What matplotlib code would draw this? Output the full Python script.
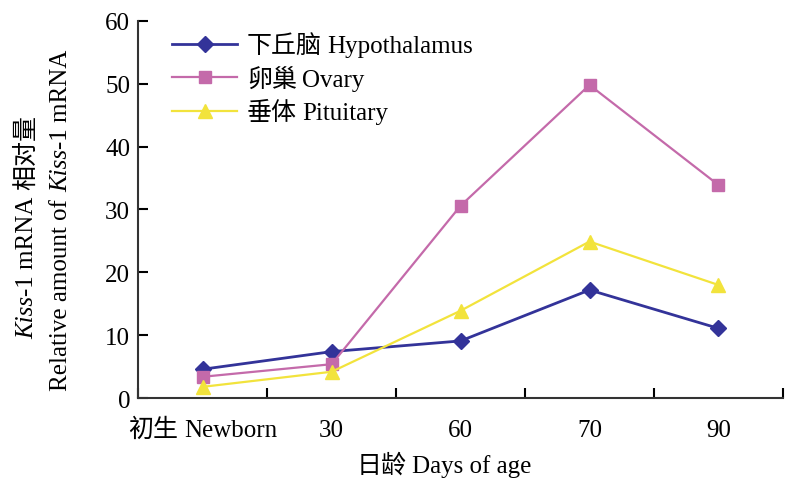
import matplotlib
matplotlib.use('Agg')
import matplotlib.pyplot as plt
from matplotlib.transforms import IdentityTransform

# one family per text object: CJK runs and latin runs are drawn separately
SERIF = 'Liberation Serif'
CJK = 'Noto Sans CJK SC'
plt.rcParams['font.family'] = SERIF

# data
categories = ['初生 Newborn', '30', '60', '70', '90']
hypothalamus = [4.6, 7.4, 9.1, 17.2, 11.1]
ovary = [3.4, 5.4, 30.6, 49.8, 33.9]
pituitary = [1.8, 4.2, 13.9, 24.9, 18.0]
series_names = ['下丘脑 Hypothalamus', '卵巢 Ovary', '垂体 Pituitary']

FS = 18
PX = FS * 100 / 72  # font size in pixels
H = 485

fig, ax = plt.subplots(figsize=(7.86, 4.85), dpi=100)
fig.subplots_adjust(left=0.176, right=0.996, bottom=0.177, top=0.955)
r = fig.canvas.get_renderer()

x = range(len(categories))
ax.plot(x, hypothalamus, color='#333399', marker='D', markersize=8, lw=2)
ax.plot(x, ovary, color='#c46aaa', marker='s', markersize=9, lw=1.6)
ax.plot(x, pituitary, color='#f2e33c', marker='^', markersize=10, lw=1.6)

ax.set_xlim(-0.5, 4.5)
ax.set_ylim(0, 60)
ax.set_yticks(range(0, 61, 10))
# tick marks on the category boundaries, labels drawn by hand below
ax.set_xticks([i + 0.5 for i in range(-1, 5)])
ax.set_xticklabels([])
ax.tick_params(axis='x', direction='in', length=7, width=1.5)
ax.tick_params(axis='y', direction='in', length=7, width=1.5, labelsize=FS, pad=6)

for s in ['top', 'right']:
    ax.spines[s].set_visible(False)
for s in ['left', 'bottom']:
    ax.spines[s].set_linewidth(1.5)
    ax.spines[s].set_color('#333333')


def split_label(s, gap=0.25):
    # '初生 Newborn' -> [('初生', CJK, 'normal'), gap, ('Newborn', SERIF, 'normal')]
    pieces = []
    for w in s.split(' '):
        fam = CJK if any(ord(c) > 0x2e80 for c in w) else SERIF
        if pieces and fam == SERIF and pieces[-1][1] == SERIF:
            pieces[-1] = (pieces[-1][0] + ' ' + w, SERIF, 'normal')
            continue
        if pieces:
            pieces.append(gap)
        pieces.append((w, fam, 'normal'))
    return pieces


def draw_runs(x0, y0, pieces, rotation=0, align='left'):
    # x0, y0: start of the baseline in pixels; numbers in pieces are gaps in em
    items = []
    for p in pieces:
        if isinstance(p, float):
            items.append((None, p * PX))
            continue
        s, fam, st = p
        t = fig.text(0, 0, s, family=fam, style=st, fontsize=FS, rotation=rotation,
                     rotation_mode='anchor', ha='left', va='baseline',
                     transform=IdentityTransform())
        bb = t.get_window_extent(r)
        items.append((t, bb.height if rotation else bb.width))
    total = sum(l for _, l in items)
    pos = -{'left': 0, 'center': total / 2, 'right': total}[align]
    for t, l in items:
        if t is not None:
            t.set_position((x0, y0 + pos) if rotation else (x0 + pos, y0))
        pos += l


def baseline(t):
    bb = t.get_window_extent(r)
    prop = t.get_fontproperties()
    d = max(r.get_text_width_height_descent(t.get_text(), prop, False)[2],
            r.get_text_width_height_descent('lp', prop, False)[2])
    return bb.x0, bb.y0 + d


# legend: latin placeholders keep the row sizes, the real labels are drawn on top
leg = ax.legend(ax.get_lines(), [n.split(' ')[-1] for n in series_names],
                loc='upper left', bbox_to_anchor=(172, H - 36),
                bbox_transform=IdentityTransform(), frameon=False, fontsize=FS,
                handlelength=2.6, handletextpad=0.4, labelspacing=0.44,
                borderpad=0, borderaxespad=0)
for t in leg.get_texts():
    t.set_alpha(0)

fig.canvas.draw()

for t, name in zip(leg.get_texts(), series_names):
    lx, ly = baseline(t)
    draw_runs(lx, ly, split_label(name, gap=0.2))

# x tick labels and x label
for i, c in enumerate(categories):
    cx = ax.transData.transform((i, 0))[0]
    draw_runs(cx, H - 437, split_label(c), align='center')
draw_runs(444, H - 473, split_label('日龄 Days of age', gap=0.2), align='center')

# y label, two lines with the gene name in italics
draw_runs(33, H - 227, [('Kiss', SERIF, 'italic'), ('-1 mRNA', SERIF, 'normal'),
                        0.3, ('相对量', CJK, 'normal')], rotation=90, align='center')
draw_runs(67, H - 220, [('Relative amount of', SERIF, 'normal'), 0.28,
                        ('Kiss', SERIF, 'italic'), ('-1 mRNA', SERIF, 'normal')],
          rotation=90, align='center')

fig.savefig('out.png')
